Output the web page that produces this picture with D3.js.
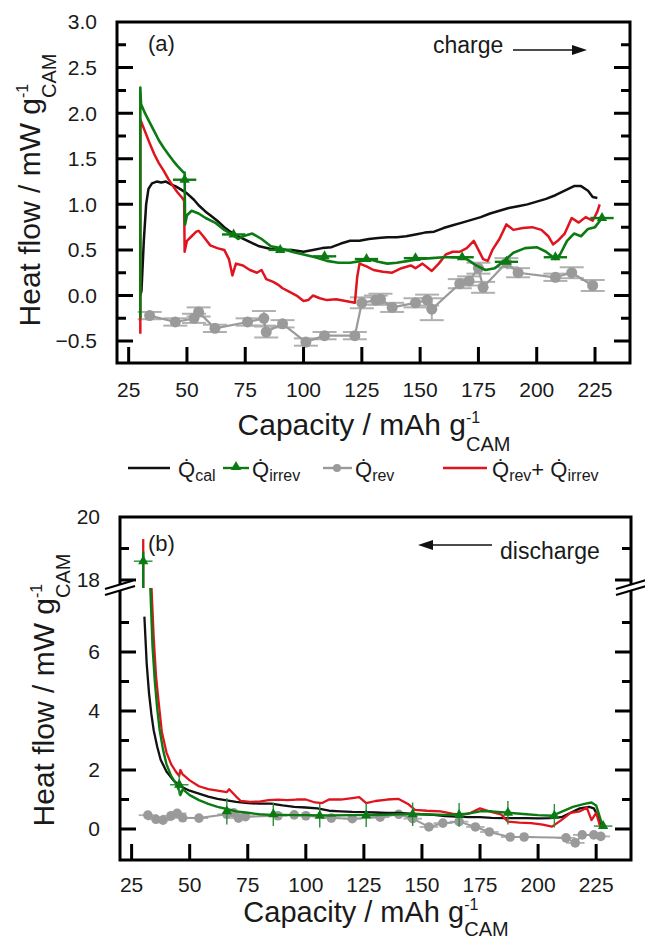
<!DOCTYPE html>
<html><head><meta charset="utf-8">
<script src="https://cdn.jsdelivr.net/npm/d3@7"></script>
<style>
body{margin:0;background:#fff}
svg{display:block}
text{font-family:Arial,"Liberation Sans",Helvetica,sans-serif;fill:#1a1a1a}
</style></head><body>
<svg id="c" width="645" height="939"></svg>
<script>
// ---------------- DATA ----------------
const xTicks = [25, 50, 75, 100, 125, 150, 175, 200, 225];
const aYTicks = [-0.5, 0, 0.5, 1, 1.5, 2, 2.5, 3];
const aYMinor = [-0.25, 0.25, 0.75, 1.25, 1.75, 2.25, 2.75];
const bYTicksLow = [0, 2, 4, 6];
const bYMinorLow = [1, 3, 5, 7];
const bYTicksHigh = [18, 20];
const bYMinorHigh = [19];

// (a) charge
const aCal = [[30,0.0],[30.5,0.05],[31.5,0.6],[32.5,1.0],[33.5,1.17],[35,1.23],[37,1.25],[39,1.24],[41,1.25],[43,1.22],[45,1.2],[47,1.17],[50,1.12],[53,1.05],[55,0.99],[58,0.92],[60,0.88],[63,0.82],[66,0.75],[68,0.71],[72,0.65],[76,0.6],[81,0.54],[86,0.51],[90,0.5],[95,0.5],[100,0.48],[104,0.5],[108,0.52],[112,0.53],[116,0.57],[120,0.6],[124,0.6],[128,0.62],[132,0.63],[136,0.64],[140,0.64],[144,0.65],[148,0.67],[152,0.69],[156,0.7],[160,0.74],[164,0.77],[168,0.8],[172,0.83],[176,0.86],[180,0.9],[184,0.93],[188,0.96],[192,0.98],[196,1.0],[200,1.03],[204,1.06],[208,1.1],[212,1.15],[216,1.2],[219,1.2],[222,1.15],[224,1.08],[226,1.07]];
const aIrrev = [[30,-0.25],[30,2.28],[30.3,2.1],[32,2.0],[34,1.9],[36,1.8],[38,1.7],[40,1.62],[42,1.55],[44,1.48],[46,1.42],[48.5,1.35],[49,1.35],[49.2,0.78],[50,0.88],[52,0.93],[55,0.9],[58,0.85],[62,0.8],[66,0.72],[70,0.66],[72,0.62],[74,0.65],[78,0.68],[82,0.62],[86,0.54],[90,0.52],[95,0.48],[100,0.45],[105,0.42],[110,0.38],[115,0.36],[120,0.36],[125,0.38],[128,0.4],[132,0.37],[136,0.35],[140,0.36],[145,0.38],[150,0.4],[155,0.41],[160,0.42],[165,0.42],[170,0.4],[174,0.33],[178,0.28],[182,0.3],[186,0.38],[190,0.47],[195,0.52],[200,0.53],[204,0.48],[208,0.4],[210,0.45],[213,0.6],[216,0.68],[219,0.65],[222,0.73],[225,0.75],[228,0.85]];
const aIrrevMarks = [[49,1.27],[70,0.67],[90,0.5],[109,0.43],[127,0.4],[148,0.41],[168,0.42],[187,0.37],[208,0.42],[228,0.85]];
const aSum = [[30,-0.42],[30,1.93],[32,1.8],[34,1.67],[36,1.55],[38,1.45],[40,1.37],[42,1.28],[44,1.2],[46,1.13],[48,1.07],[48.8,1.04],[49,0.48],[50,0.6],[52,0.65],[54,0.7],[55,0.71],[57,0.65],[60,0.55],[63,0.52],[66,0.5],[68,0.4],[69.5,0.22],[71,0.35],[74,0.33],[77,0.28],[80,0.25],[82,0.28],[84,0.18],[87,0.15],[89,0.12],[91,0.08],[94,0.04],[97,0.0],[100,-0.06],[102,-0.05],[104,0.0],[107,-0.03],[110,-0.05],[114,-0.04],[118,-0.06],[122,-0.08],[123,0.2],[124,0.35],[127,0.32],[130,0.28],[134,0.26],[138,0.25],[142,0.3],[146,0.33],[148,0.3],[151,0.35],[155,0.27],[158,0.35],[161,0.45],[164,0.48],[167,0.48],[170,0.52],[173,0.6],[175,0.5],[177,0.4],[179,0.38],[181,0.5],[184,0.62],[187,0.78],[190,0.72],[194,0.74],[198,0.75],[202,0.72],[205,0.65],[207,0.56],[209,0.6],[212,0.68],[215,0.85],[218,0.8],[221,0.86],[224,0.82],[226,0.92],[227,1.0]];
const aRev = [[34,-0.22],[45,-0.29],[53,-0.25],[55,-0.18],[62,-0.36],[76,-0.29],[83,-0.25],[84,-0.4],[91,-0.31],[101,-0.51],[109,-0.44],[122,-0.44],[125,-0.08],[131,-0.05],[133,-0.04],[138,-0.13],[148,-0.08],[153,-0.05],[155,-0.15],[167,0.13],[171,0.16],[175,0.3],[177,0.09],[187,0.36],[192,0.25],[208,0.2],[215,0.25],[224,0.11]];
const aRevErr = [0.04,0.04,0.05,0.05,0.04,0.04,0.08,0.06,0.04,0.04,0.04,0.04,0.06,0.05,0.06,0.05,0.05,0.06,0.12,0.05,0.05,0.06,0.06,0.05,0.05,0.04,0.06,0.06];

// (b) discharge
const bCal = [[30.5,7.2],[31.5,5.6],[32.5,4.6],[33.5,3.9],[34.5,3.35],[36,2.8],[37.5,2.35],[40,1.95],[43,1.65],[46,1.45],[50,1.3],[54,1.2],[58,1.1],[62,1.02],[66,0.97],[70,0.92],[75,0.88],[80,0.86],[85,0.86],[90,0.8],[95,0.75],[100,0.73],[105,0.7],[110,0.62],[115,0.6],[120,0.58],[125,0.57],[130,0.56],[135,0.55],[140,0.55],[145,0.52],[150,0.5],[155,0.48],[160,0.44],[165,0.42],[170,0.4],[175,0.4],[180,0.38],[185,0.37],[190,0.37],[195,0.37],[200,0.36],[205,0.37],[210,0.4],[214,0.55],[218,0.7],[222,0.75],[224,0.7],[226,0.4],[227,0.05]];
const bIrrevHigh = [[30,17.5],[30,18.9]];
const bIrrevLow = [[33,8.3],[34,6.2],[35,5.0],[36,4.1],[37,3.4],[38.5,2.7],[40,2.2],[42,1.8],[44,1.55],[45.5,1.3],[46,1.15],[47,1.35],[50,1.15],[54,0.98],[58,0.85],[62,0.75],[66,0.68],[70,0.6],[75,0.55],[80,0.5],[85,0.48],[90,0.48],[95,0.47],[100,0.47],[110,0.46],[120,0.47],[130,0.47],[140,0.5],[150,0.5],[160,0.48],[170,0.52],[175,0.6],[180,0.6],[187,0.55],[195,0.5],[200,0.47],[206,0.45],[210,0.58],[215,0.75],[220,0.85],[223,0.9],[225,0.8],[227,0.3],[228,0.12]];
const bIrrevMarks = [[30,18.6],[45.5,1.5],[66,0.6],[86,0.5],[106,0.45],[126,0.47],[146,0.5],[166,0.48],[187,0.55],[207,0.45],[228,0.1]];
const bIrrevXErr = [4,4,0,0,0,0,0,0,0,0,4];
const bIrrevYErr = [0,0.35,0.45,0.4,0.4,0.4,0.4,0.4,0.4,0.4,0];
const bSumHigh = [[30,17.5],[30,19.3]];
const bSumLow = [[33.5,8.3],[34.5,6.5],[35.5,5.2],[36.5,4.4],[38,3.3],[40,2.6],[42,2.2],[44,1.95],[45.5,1.8],[46,2.0],[47,1.85],[50,1.65],[54,1.45],[58,1.35],[62,1.3],[66,1.25],[67,1.35],[70,1.1],[72,0.95],[76,0.92],[80,0.93],[84,0.98],[88,1.0],[92,0.98],[96,1.0],[100,1.0],[104,0.9],[107,0.88],[110,1.0],[115,1.0],[120,1.05],[123,1.08],[126,0.88],[130,0.95],[135,1.0],[140,1.02],[144,0.85],[147,0.65],[152,0.62],[158,0.6],[163,0.52],[167,0.48],[171,0.55],[175,0.7],[179,0.6],[184,0.5],[187,0.25],[192,0.22],[197,0.2],[202,0.15],[206,0.08],[210,0.3],[214,0.55],[218,0.6],[221,0.72],[223,0.3],[225,0.55],[227,0.0]];
const bRev = [[32,0.47],[35.5,0.33],[38.5,0.3],[42,0.45],[44.6,0.53],[47,0.38],[54,0.37],[66,0.5],[69,0.55],[71,0.37],[74,0.42],[88,0.45],[95,0.48],[100,0.45],[111,0.37],[120,0.35],[132,0.4],[140,0.5],[146,0.35],[153,0.07],[159,0.2],[166,0.25],[173,0.07],[179,-0.1],[188,-0.27],[194,-0.27],[212,-0.3],[216,-0.47],[219,-0.2],[224,-0.2],[227,-0.25]];

// legend
const legendLabels = ["cal", "irrev", "rev", "rev"];

// ---------------- DRAW ----------------
const svg = d3.select("#c");
const BLACK = "#111", GREEN = "#0c7a12", RED = "#e0141e", GRAY = "#9a9a9a", GRAYL = "#b0b0b0";
const MAJ = 16, MIN = 9;

const xA = d3.scaleLinear([20, 240], [117, 630]);
const yA = d3.scaleLinear([-0.74, 3.0], [363, 22]);
const xB = d3.scaleLinear([20, 240], [120, 631]);
const yBlo = d3.scaleLinear([-1.05, 8.17], [860, 588]);
const yBhi = d3.scaleLinear([17.75, 20], [588, 517]);

const defs = svg.append("defs");
defs.append("clipPath").attr("id", "clipA").append("rect").attr("x", 117).attr("y", 22).attr("width", 513).attr("height", 341);
defs.append("clipPath").attr("id", "clipBlo").append("rect").attr("x", 120).attr("y", 588).attr("width", 511).attr("height", 272);
defs.append("clipPath").attr("id", "clipBhi").append("rect").attr("x", 120).attr("y", 517).attr("width", 511).attr("height", 71);

const plotG = svg.append("g");
const axisG = svg.append("g");

// frame + ticks built as one d3.path per panel
function panelFrame(x, y0, y1, yParts) {
  const p = d3.path();
  const [xl, xr] = x.range();
  p.moveTo(xl, y1); p.lineTo(xr, y1); p.lineTo(xr, y0); p.lineTo(xl, y0); p.closePath();
  yParts.forEach(([y, major, minor, fmt]) => {
    major.forEach(v => {
      const yy = y(v);
      p.moveTo(xl, yy); p.lineTo(xl + MAJ, yy);
      p.moveTo(xr, yy); p.lineTo(xr - MAJ, yy);
      axisG.append("text").attr("x", xl - 20).attr("y", yy).attr("dy", "0.35em").attr("text-anchor", "end")
        .style("font-size", "21px").text(fmt(v));
    });
    minor.forEach(v => {
      const yy = y(v);
      p.moveTo(xl, yy); p.lineTo(xl + MIN, yy);
      p.moveTo(xr, yy); p.lineTo(xr - MIN, yy);
    });
  });
  xTicks.forEach(v => {
    p.moveTo(x(v), y0); p.lineTo(x(v), y0 - MAJ);
  });
  axisG.append("path").attr("d", p.toString()).attr("fill", "none").attr("stroke", "#000")
    .attr("stroke-width", 3).attr("stroke-linejoin", "miter");
}

function xLabels(x, y0, off) {
  xTicks.forEach(v => {
    axisG.append("text").attr("x", x(v)).attr("y", y0 + off).attr("text-anchor", "middle")
      .style("font-size", "21px").text(v);
  });
}

function labelWithUnit(t, main, fsMain, subDy) {
  t.style("font-size", fsMain + "px");
  t.append("tspan").text(main);
  const sup = t.append("tspan").attr("dy", -12).style("font-size", "16px").text("-1");
  const w = sup.node().getComputedTextLength();
  t.append("tspan").attr("dx", -w).attr("dy", 12 + subDy).style("font-size", "20px").text("CAM");
}

function lineGen(x, y) {
  return d3.line().x(d => x(d[0])).y(d => y(d[1]));
}

function path(data, x, y, color, w, clip) {
  const p = plotG.append("path").datum(data).attr("d", lineGen(x, y))
    .attr("fill", "none").attr("stroke", color).attr("stroke-width", w).attr("stroke-linejoin", "round");
  if (clip) p.attr("clip-path", `url(#${clip})`);
  return p;
}

const tri = d3.symbol(d3.symbolTriangle, 46);

// ===== Panel (a) =====
aRev.forEach((d, i) => {
  const cx = xA(d[0]), e = aRevErr[i];
  const g = plotG.append("g").attr("stroke", GRAYL).attr("stroke-width", 2);
  g.append("line").attr("x1", cx).attr("x2", cx).attr("y1", yA(d[1] - e)).attr("y2", yA(d[1] + e));
  [d[1] - e, d[1] + e].forEach(v => g.append("line").attr("x1", cx - 12).attr("x2", cx + 12).attr("y1", yA(v)).attr("y2", yA(v)));
});
path(aRev, xA, yA, GRAY, 2.2, "clipA");
plotG.append("g").selectAll("circle").data(aRev).join("circle")
  .attr("cx", d => xA(d[0])).attr("cy", d => yA(d[1])).attr("r", 5.5).attr("fill", GRAY);

path(aCal, xA, yA, BLACK, 2.5, "clipA");
path(aSum, xA, yA, RED, 2.5, "clipA");
path(aIrrev, xA, yA, GREEN, 2.6, "clipA");
aIrrevMarks.forEach(d => {
  plotG.append("line").attr("x1", xA(d[0] - 5)).attr("x2", xA(d[0] + 5)).attr("y1", yA(d[1])).attr("y2", yA(d[1]))
    .attr("stroke", GREEN).attr("stroke-width", 2.4);
});
plotG.append("g").selectAll("path").data(aIrrevMarks).join("path")
  .attr("d", tri).attr("transform", d => `translate(${xA(d[0])},${yA(d[1])})`).attr("fill", GREEN);

panelFrame(xA, 363, 22, [[yA, aYTicks, aYMinor, d3.format(".1f")]]);
xLabels(xA, 363, 34);

svg.append("text").attr("x", 148).attr("y", 51).style("font-size", "22px").text("(a)");
svg.append("text").attr("x", 433).attr("y", 53).style("font-size", "23px").text("charge");
svg.append("line").attr("x1", 513).attr("x2", 574).attr("y1", 50).attr("y2", 50).attr("stroke", "#111").attr("stroke-width", 1.5);
svg.append("path").attr("d", "M587,50 L572,45 L572,55 Z").attr("fill", "#111");

labelWithUnit(svg.append("text").attr("x", 374).attr("y", 435).attr("text-anchor", "middle"), "Capacity / mAh g", 30, 16);
labelWithUnit(svg.append("text").attr("transform", "translate(40,190) rotate(-90)").attr("text-anchor", "middle"), "Heat flow / mW g", 30, 16);

// ===== Legend =====
const ly = 468, lb = 477;
function legText(x, parts) {
  const t = svg.append("text").attr("x", x).attr("y", lb).style("font-size", "22px");
  parts.forEach(p => {
    const s = t.append("tspan").text(p[0]);
    if (p[1] === "sub") s.style("font-size", "16px").attr("dy", 4);
    if (p[1] === "up") s.attr("dy", -4);
  });
}
svg.append("line").attr("x1", 128).attr("x2", 170).attr("y1", ly).attr("y2", ly).attr("stroke", BLACK).attr("stroke-width", 2.4);
legText(178, [["Q\u0307"], [legendLabels[0], "sub"]]);
svg.append("line").attr("x1", 223).attr("x2", 249).attr("y1", ly).attr("y2", ly).attr("stroke", GREEN).attr("stroke-width", 2.4);
svg.append("path").attr("d", tri).attr("transform", `translate(236,${ly - 1})`).attr("fill", GREEN);
legText(252, [["Q\u0307"], [legendLabels[1], "sub"]]);
svg.append("line").attr("x1", 323).attr("x2", 352).attr("y1", ly).attr("y2", ly).attr("stroke", GRAY).attr("stroke-width", 2.4);
svg.append("circle").attr("cx", 337).attr("cy", ly).attr("r", 4).attr("fill", GRAY);
legText(355, [["Q\u0307"], [legendLabels[2], "sub"]]);
svg.append("line").attr("x1", 443).attr("x2", 487).attr("y1", ly).attr("y2", ly).attr("stroke", RED).attr("stroke-width", 2.4);
legText(492, [["Q\u0307"], [legendLabels[3], "sub"], ["+ Q\u0307", "up"], ["irrev", "sub"]]);

// ===== Panel (b) =====
bRev.forEach(d => {
  plotG.append("line").attr("x1", xB(d[0] - 4)).attr("x2", xB(d[0] + 4)).attr("y1", yBlo(d[1])).attr("y2", yBlo(d[1]))
    .attr("stroke", GRAYL).attr("stroke-width", 1.8);
});
path(bRev, xB, yBlo, GRAY, 2, "clipBlo");
plotG.append("g").selectAll("circle").data(bRev).join("circle")
  .attr("cx", d => xB(d[0])).attr("cy", d => yBlo(d[1])).attr("r", 4.8).attr("fill", GRAY);

path(bCal, xB, yBlo, BLACK, 2.3, "clipBlo");
path(bSumLow, xB, yBlo, RED, 2.3, "clipBlo");
path(bSumHigh, xB, yBhi, RED, 2.3, "clipBhi");
path(bIrrevLow, xB, yBlo, GREEN, 2.4, "clipBlo");
path(bIrrevHigh, xB, yBhi, GREEN, 2.4, "clipBhi");
bIrrevMarks.forEach((d, i) => {
  const y = d[1] > 10 ? yBhi : yBlo;
  const g = plotG.append("g").attr("stroke", "#2e8b3a").attr("stroke-width", 1.4);
  if (bIrrevYErr[i] > 0) g.append("line").attr("x1", xB(d[0])).attr("x2", xB(d[0])).attr("y1", y(d[1] - bIrrevYErr[i])).attr("y2", y(d[1] + bIrrevYErr[i]));
  if (bIrrevXErr[i] > 0) g.append("line").attr("x1", xB(d[0] - bIrrevXErr[i])).attr("x2", xB(d[0] + bIrrevXErr[i])).attr("y1", y(d[1])).attr("y2", y(d[1]));
  plotG.append("path").attr("d", tri).attr("transform", `translate(${xB(d[0])},${y(d[1])})`).attr("fill", GREEN);
});

panelFrame(xB, 860, 517, [[yBlo, bYTicksLow, bYMinorLow, d3.format("d")], [yBhi, bYTicksHigh, bYMinorHigh, d3.format("d")]]);
xLabels(xB, 860, 32);

// break marks
[120, 631].forEach(ax => {
  svg.append("path").attr("d", `M${ax - 15},589 L${ax + 15},580 L${ax + 15},586 L${ax - 15},595 Z`).attr("fill", "#fff");
  svg.append("line").attr("x1", ax - 15).attr("y1", 589).attr("x2", ax + 15).attr("y2", 580).attr("stroke", "#000").attr("stroke-width", 2.2);
  svg.append("line").attr("x1", ax - 15).attr("y1", 595).attr("x2", ax + 15).attr("y2", 586).attr("stroke", "#000").attr("stroke-width", 2.2);
});

svg.append("text").attr("x", 148).attr("y", 551).style("font-size", "22px").text("(b)");
svg.append("text").attr("x", 500).attr("y", 559).style("font-size", "23px").text("discharge");
svg.append("line").attr("x1", 430).attr("x2", 492).attr("y1", 545).attr("y2", 545).attr("stroke", "#111").attr("stroke-width", 1.5);
svg.append("path").attr("d", "M418,545 L433,540 L433,550 Z").attr("fill", "#111");

labelWithUnit(svg.append("text").attr("x", 376).attr("y", 922).attr("text-anchor", "middle"), "Capacity / mAh g", 29, 14);
labelWithUnit(svg.append("text").attr("transform", "translate(54,690) rotate(-90)").attr("text-anchor", "middle"), "Heat flow / mW g", 30, 16);
</script>
</body></html>
